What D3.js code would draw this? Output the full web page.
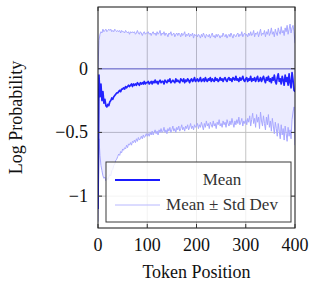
<!DOCTYPE html>
<html>
<head>
<meta charset="utf-8">
<script src="https://cdn.jsdelivr.net/npm/d3@7"></script>
<style>
  body { margin: 0; background: #fff; }
  svg text { font-family: 'Liberation Serif', 'Times New Roman', Tinos, 'DejaVu Serif', serif; fill: #111; }
</style>
</head>
<body>
<div id="chart"></div>
<script>
// token positions (every 2nd token) and the three curves
var tokenPositions = d3.range(0, 401, 2);

var meanLogProb = [
  -1.10,-0.05,-0.22,-0.12,-0.25,-0.18,-0.27,-0.24,-0.29,-0.30,
  -0.28,-0.29,-0.26,-0.25,-0.23,-0.24,-0.22,-0.21,-0.20,-0.19,
  -0.19,-0.18,-0.17,-0.18,-0.16,-0.16,-0.15,-0.16,-0.14,-0.15,
  -0.14,-0.13,-0.14,-0.13,-0.12,-0.14,-0.12,-0.13,-0.12,-0.13,
  -0.11,-0.12,-0.13,-0.11,-0.12,-0.11,-0.12,-0.10,-0.12,-0.11,
  -0.11,
  -0.10,-0.12,-0.11,-0.10,-0.12,-0.10,-0.11,-0.09,-0.11,-0.10,
  -0.12,-0.10,-0.09,-0.11,-0.10,-0.10,-0.12,-0.09,-0.10,-0.11,
  -0.09,-0.10,-0.08,-0.11,-0.10,-0.09,-0.10,-0.11,-0.08,-0.10,
  -0.09,-0.10,-0.11,-0.08,-0.09,-0.10,-0.08,-0.11,-0.09,-0.10,
  -0.08,-0.09,-0.11,-0.09,-0.08,-0.10,-0.09,-0.07,-0.10,-0.09,
  -0.08,-0.10,-0.09,-0.07,-0.10,-0.09,-0.08,-0.10,-0.07,-0.09,
  -0.10,-0.08,-0.09,-0.07,-0.10,-0.08,-0.09,-0.10,-0.07,-0.09,
  -0.08,-0.10,-0.09,-0.07,-0.09,-0.08,-0.10,-0.08,-0.07,-0.09,
  -0.10,-0.08,-0.07,-0.09,-0.08,-0.10,-0.07,-0.08,-0.09,-0.06,
  -0.09,-0.08,-0.10,-0.07,-0.09,-0.08,-0.06,-0.09,-0.10,-0.08,
  -0.07,-0.10,-0.08,-0.09,-0.06,-0.10,-0.08,-0.09,-0.07,-0.10,
  -0.08,-0.06,-0.10,-0.09,-0.07,-0.10,-0.08,-0.06,-0.09,-0.11,
  -0.07,-0.09,-0.06,-0.10,-0.08,-0.11,-0.07,-0.09,-0.05,-0.10,
  -0.12,-0.07,-0.04,-0.10,-0.08,-0.12,-0.06,-0.09,-0.13,-0.05,
  -0.10,-0.07,-0.13,-0.04,-0.11,-0.15,-0.03,-0.09,-0.17,-0.18
];

var upperLogProb = [
  0.00,0.22,0.27,0.29,0.28,0.31,0.29,0.30,0.31,0.29,
  0.30,0.31,0.30,0.31,0.29,0.30,0.29,0.31,0.30,0.29,
  0.30,
  0.29,0.30,0.28,0.30,0.29,0.29,0.28,0.30,0.29,0.28,
  0.29,0.27,0.29,0.28,0.29,0.28,0.29,0.27,0.28,0.30,
  0.28,0.27,0.29,0.28,0.26,0.28,0.29,0.27,0.28,0.28,
  0.29,0.27,0.28,0.26,0.28,0.29,0.27,0.28,0.26,0.29,
  0.27,0.28,0.30,0.26,0.28,0.27,0.29,0.26,0.28,0.27,
  0.25,0.28,0.27,0.29,0.26,0.27,0.28,0.25,0.27,0.28,
  0.26,0.28,0.27,0.25,0.28,0.26,0.27,0.29,0.25,0.27,
  0.26,0.28,0.25,0.27,0.26,0.28,0.24,0.27,0.26,0.27,
  0.25,0.27,0.26,0.24,0.27,0.25,0.28,0.26,0.24,0.27,
  0.26,0.25,0.27,0.24,0.26,0.28,0.25,0.26,0.24,0.27,
  0.25,0.27,0.26,0.24,0.26,0.25,0.28,0.26,0.25,0.27,
  0.24,0.26,0.27,0.25,0.28,0.26,0.24,0.27,0.26,0.25,
  0.27,0.28,0.25,0.27,0.26,0.29,0.25,0.27,0.28,0.26,
  0.27,0.25,0.28,0.26,0.29,0.26,0.27,0.30,0.25,0.28,
  0.27,0.29,0.25,0.28,0.31,0.26,0.28,0.27,0.30,0.25,
  0.29,0.27,0.31,0.26,0.28,0.32,0.27,0.29,0.25,0.31,
  0.28,0.26,0.32,0.29,0.27,0.33,0.28,0.30,0.26,0.32,
  0.29,0.34,0.27,0.31,0.35,0.28,0.32,0.34,0.29,0.20
];

var lowerLogProb = [
  -1.20,-0.55,-0.68,-0.76,-0.80,-0.84,-0.86,-0.85,-0.88,-0.86,
  -0.87,-0.85,-0.83,-0.84,-0.80,-0.79,-0.76,-0.75,-0.72,-0.71,
  -0.69,
  -0.67,-0.68,-0.65,-0.66,-0.63,-0.64,-0.62,-0.63,-0.60,-0.62,
  -0.59,-0.60,-0.58,-0.60,-0.57,-0.58,-0.56,-0.58,-0.55,-0.57,
  -0.54,-0.56,-0.55,-0.53,-0.55,-0.52,-0.54,-0.53,-0.51,-0.53,
  -0.51,-0.53,-0.50,-0.52,-0.49,-0.52,-0.50,-0.48,-0.51,-0.49,
  -0.52,-0.48,-0.50,-0.47,-0.50,-0.49,-0.46,-0.50,-0.48,-0.51,
  -0.47,-0.49,-0.46,-0.50,-0.48,-0.45,-0.49,-0.47,-0.50,-0.46,
  -0.48,-0.45,-0.49,-0.47,-0.44,-0.48,-0.46,-0.49,-0.45,-0.47,
  -0.44,-0.48,-0.46,-0.43,-0.47,-0.45,-0.48,-0.44,-0.46,-0.45,
  -0.43,-0.47,-0.44,-0.46,-0.42,-0.45,-0.48,-0.43,-0.46,-0.41,
  -0.45,-0.43,-0.47,-0.42,-0.44,-0.46,-0.41,-0.45,-0.43,-0.47,
  -0.42,-0.44,-0.40,-0.45,-0.43,-0.46,-0.41,-0.44,-0.42,-0.46,
  -0.40,-0.43,-0.45,-0.41,-0.44,-0.39,-0.43,-0.46,-0.41,-0.44,
  -0.40,-0.43,-0.38,-0.44,-0.42,-0.39,-0.45,-0.41,-0.43,-0.40,
  -0.44,-0.39,-0.42,-0.37,-0.45,-0.40,-0.35,-0.43,-0.39,-0.46,
  -0.36,-0.42,-0.38,-0.47,-0.34,-0.41,-0.45,-0.37,-0.43,-0.48,
  -0.38,-0.44,-0.36,-0.46,-0.41,-0.49,-0.39,-0.45,-0.51,-0.42,
  -0.47,-0.53,-0.43,-0.49,-0.55,-0.44,-0.52,-0.47,-0.56,-0.45,
  -0.51,-0.57,-0.46,-0.53,-0.48,-0.55,-0.40,-0.34,-0.30,-0.60
];

var xTicks = [0, 100, 200, 300, 400];
var yTicks = [-1, -0.5, 0];
var legendLabels = ["Mean", "Mean \u00b1 Std Dev"];

var serif = "'Liberation Serif', 'Times New Roman', Tinos, 'DejaVu Serif', serif";

var margin = {top: 7, right: 16, bottom: 54, left: 98},
    width = 197,
    height = 221;

var svg = d3.select("#chart").append("svg")
    .attr("width", width + margin.left + margin.right)
    .attr("height", height + margin.top + margin.bottom)
    .attr("font-family", serif)
  .append("g")
    .attr("transform", "translate(" + margin.left + "," + margin.top + ")");

var x = d3.scaleLinear().domain([0, 400]).range([0, width]);
var y = d3.scaleLinear().domain([-1.25, 0.484]).range([height, 0]);

var points = tokenPositions.map(function(t, i) {
  return {t: t, mean: meanLogProb[i], upper: upperLogProb[i], lower: lowerLogProb[i]};
});

svg.append("clipPath").attr("id", "plotclip")
  .append("rect").attr("width", width).attr("height", height);

// grid
svg.append("g").selectAll("line")
    .data(xTicks.slice(1, -1))
  .enter().append("line")
    .attr("x1", d => x(d)).attr("x2", d => x(d))
    .attr("y1", 0).attr("y2", height)
    .attr("stroke", "#bdbdbd").attr("stroke-width", 0.9);

svg.append("g").selectAll("line")
    .data(yTicks)
  .enter().append("line")
    .attr("x1", 0).attr("x2", width)
    .attr("y1", d => y(d)).attr("y2", d => y(d))
    .attr("stroke", "#bdbdbd").attr("stroke-width", 0.9);

var plot = svg.append("g").attr("clip-path", "url(#plotclip)");

// std band
plot.append("path")
    .datum(points)
    .attr("d", d3.area().x(d => x(d.t)).y0(d => y(d.lower)).y1(d => y(d.upper)))
    .attr("fill", "blue")
    .attr("fill-opacity", 0.075);

// zero line
plot.append("line")
    .attr("x1", 0).attr("x2", width)
    .attr("y1", y(0)).attr("y2", y(0))
    .attr("stroke", "#8a8ad8").attr("stroke-width", 1.4);

["upper", "lower"].forEach(function(k) {
  plot.append("path")
      .datum(points)
      .attr("d", d3.line().x(d => x(d.t)).y(d => y(d[k])))
      .attr("fill", "none")
      .attr("stroke", "#a8a8ff")
      .attr("stroke-width", 1);
});

plot.append("path")
    .datum(points)
    .attr("d", d3.line().x(d => x(d.t)).y(d => y(d.mean)))
    .attr("fill", "none")
    .attr("stroke", "#2222ff")
    .attr("stroke-width", 1.7)
    .attr("stroke-linejoin", "round");

// frame
svg.append("rect")
    .attr("width", width).attr("height", height)
    .attr("fill", "none").attr("stroke", "#111").attr("stroke-width", 1);

// ticks (inward, all sides)
var tickLen = 4;
xTicks.forEach(function(d) {
  svg.append("line").attr("x1", x(d)).attr("x2", x(d)).attr("y1", height).attr("y2", height - tickLen)
      .attr("stroke", "#333");
  svg.append("line").attr("x1", x(d)).attr("x2", x(d)).attr("y1", 0).attr("y2", tickLen)
      .attr("stroke", "#333");
});
yTicks.forEach(function(d) {
  svg.append("line").attr("x1", 0).attr("x2", tickLen).attr("y1", y(d)).attr("y2", y(d))
      .attr("stroke", "#333");
  svg.append("line").attr("x1", width).attr("x2", width - tickLen).attr("y1", y(d)).attr("y2", y(d))
      .attr("stroke", "#333");
});

var fmt = d3.format("~g");

svg.selectAll("text.xtick")
    .data(xTicks)
  .enter().append("text")
    .attr("class", "xtick")
    .attr("x", d => x(d))
    .attr("y", height + 23)
    .attr("text-anchor", "middle")
    .style("font-size", "18px")
    .text(d => fmt(d));

svg.selectAll("text.ytick")
    .data(yTicks)
  .enter().append("text")
    .attr("class", "ytick")
    .attr("x", -10)
    .attr("y", d => y(d) + 6)
    .attr("text-anchor", "end")
    .style("font-size", "18px")
    .text(d => fmt(d));

svg.append("text")
    .attr("x", width / 2)
    .attr("y", height + 50)
    .attr("text-anchor", "middle")
    .style("font-size", "18px")
    .text("Token Position");

svg.append("text")
    .attr("transform", "translate(-76," + (height / 2) + ") rotate(-90)")
    .attr("text-anchor", "middle")
    .style("font-size", "18px")
    .text("Log Probability");

// legend
var legend = svg.append("g").attr("transform", "translate(8,155)");

legend.append("rect")
    .attr("width", 185).attr("height", 60)
    .attr("fill", "white").attr("fill-opacity", 0.8)
    .attr("stroke", "#3a3a3a").attr("stroke-width", 1);

legend.append("line")
    .attr("x1", 9).attr("x2", 54).attr("y1", 18).attr("y2", 18)
    .attr("stroke", "#1a1aff").attr("stroke-width", 2.2);
legend.append("line")
    .attr("x1", 9).attr("x2", 54).attr("y1", 43).attr("y2", 43)
    .attr("stroke", "#b8b8ff").attr("stroke-width", 1);

legend.selectAll("text.leg")
    .data(legendLabels)
  .enter().append("text")
    .attr("class", "leg")
    .attr("x", 116)
    .attr("y", (d, i) => 23 + i * 25)
    .attr("text-anchor", "middle")
    .style("font-size", "17px")
    .style("fill", "#333")
    .text(d => d);
</script>
</body>
</html>
